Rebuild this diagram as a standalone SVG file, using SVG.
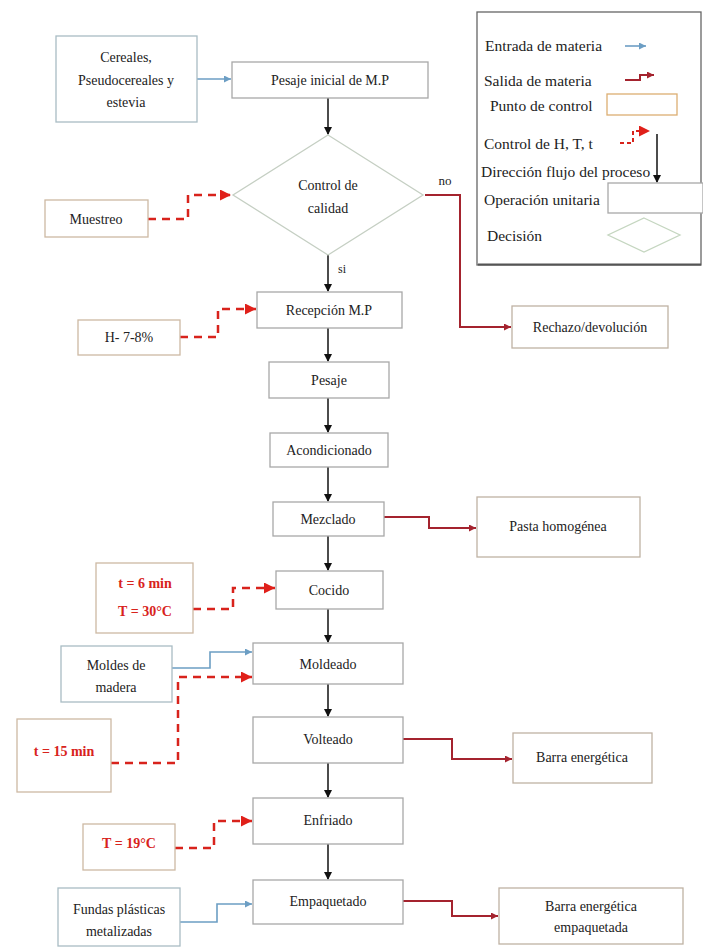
<svg xmlns="http://www.w3.org/2000/svg" width="703" height="947" viewBox="0 0 703 947">
<style>
text{font-family:"Liberation Serif","Times New Roman","DejaVu Serif",serif;font-size:14px;fill:#222;text-anchor:middle}
.lg{text-anchor:start;font-size:15.5px}
.ctl{fill:#d8231c;font-weight:bold}
.op{fill:#fff;stroke:#a8a8a8;stroke-width:1.3}
.cp{fill:#fff;stroke:#cdb9a3;stroke-width:1.3}
.out{fill:#fff;stroke:#bfb2a4;stroke-width:1.3}
.in{fill:#fff;stroke:#a9bcc4;stroke-width:1.3}
.flow{stroke:#111;stroke-width:1.5;fill:none;marker-end:url(#ab)}
.ent{stroke:#6c9ec4;stroke-width:1.6;fill:none;marker-end:url(#abl)}
.sal{stroke:#a4232e;stroke-width:2;fill:none;marker-end:url(#ar)}
.ctr{stroke:#d8231c;stroke-width:2.5;fill:none;stroke-dasharray:8 6;marker-end:url(#arc)}
</style>
<defs>
<marker id="ab" markerUnits="userSpaceOnUse" markerWidth="8" markerHeight="9" refX="7" refY="4" orient="auto"><path d="M0,0 L8,4 L0,8 z" fill="#111"/></marker>
<marker id="abl" markerUnits="userSpaceOnUse" markerWidth="8" markerHeight="8" refX="7" refY="3.5" orient="auto"><path d="M0,0 L7,3.5 L0,7 z" fill="#6c9ec4"/></marker>
<marker id="ar" markerUnits="userSpaceOnUse" markerWidth="8" markerHeight="8" refX="7" refY="3.5" orient="auto"><path d="M0,0 L7,3.5 L0,7 z" fill="#a4232e"/></marker>
<marker id="arc" markerUnits="userSpaceOnUse" markerWidth="12" markerHeight="12" refX="11" refY="5.5" orient="auto"><path d="M0,0 L11,5.5 L0,11 z" fill="#e0201a"/></marker>
</defs>
<rect width="703" height="947" fill="#fff"/>

<g id="connectors">
<path class="flow" d="M328,98 V134"/>
<path class="flow" d="M328,255 V291"/>
<path class="flow" d="M328,328 V361"/>
<path class="flow" d="M328,398 V432"/>
<path class="flow" d="M328,467 V501"/>
<path class="flow" d="M328,536 V570"/>
<path class="flow" d="M328,609 V642"/>
<path class="flow" d="M328,684 V716"/>
<path class="flow" d="M328,763 V797"/>
<path class="flow" d="M328,844 V879"/>
<path class="ent" d="M197,79 H231"/>
<path class="ent" d="M172,668 H210 V652 H252"/>
<path class="ent" d="M180,922 H217 V904 H252"/>
<path class="sal" d="M425,195 H460 V327 H511"/>
<path class="sal" d="M384,517 H429 V528 H476"/>
<path class="sal" d="M403,739 H452 V759 H512"/>
<path class="sal" d="M403,901 H452 V916 H498"/>
<path class="ctr" d="M148,219 H188 V195 H231"/>
<path class="ctr" d="M180,337 H218 V309 H256"/>
<path class="ctr" d="M193,609 H233 V588 H275"/>
<path class="ctr" d="M111,763 H178 V677 H252"/>
<path class="ctr" d="M175,848 H214 V821 H252"/>
<text x="445" y="185" style="font-size:13px">no</text>
<text x="342" y="273" style="font-size:12px">si</text>
</g>

<g id="cereales"><rect class="in" x="56" y="36" width="141" height="86"/>
<text x="126" y="62">Cereales,</text><text x="126" y="85">Pseudocereales y</text><text x="126" y="107">estevia</text></g>
<g id="pesaje-inicial"><rect class="op" x="232" y="62" width="196" height="36"/><text x="330" y="85">Pesaje inicial de M.P</text></g>
<g id="control-calidad"><path d="M328,135 L423,195 L328,255 L233,195 z" fill="#fff" stroke="#c5cfc3" stroke-width="1.3"/>
<text x="328" y="190">Control de</text><text x="328" y="213">calidad</text></g>
<g id="muestreo"><rect class="cp" x="45" y="200" width="103" height="37"/><text x="96" y="224">Muestreo</text></g>
<g id="recepcion"><rect class="op" x="257" y="292" width="145" height="36"/><text x="329" y="315">Recepción M.P</text></g>
<g id="humedad"><rect class="cp" x="78" y="320" width="102" height="35"/><text x="129" y="342">H- 7-8%</text></g>
<g id="rechazo"><rect class="out" x="512" y="306" width="156" height="42"/><text x="590" y="332">Rechazo/devolución</text></g>
<g id="pesaje"><rect class="op" x="269" y="362" width="120" height="36"/><text x="329" y="385">Pesaje</text></g>
<g id="acondicionado"><rect class="op" x="270" y="433" width="118" height="34"/><text x="329" y="455">Acondicionado</text></g>
<g id="mezclado"><rect class="op" x="273" y="502" width="111" height="34"/><text x="328" y="524">Mezclado</text></g>
<g id="pasta"><rect class="out" x="477" y="497" width="163" height="60"/><text x="558" y="531">Pasta homogénea</text></g>
<g id="cocido"><rect class="op" x="276" y="571" width="107" height="38"/><text x="329" y="595">Cocido</text></g>
<g id="ctl-cocido"><rect class="cp" x="96" y="563" width="97" height="70"/>
<text class="ctl" x="145" y="588">t = 6 min</text><text class="ctl" x="145" y="616">T = 30°C</text></g>
<g id="moldeado"><rect class="op" x="253" y="643" width="150" height="41"/><text x="328" y="669">Moldeado</text></g>
<g id="moldes"><rect class="in" x="61" y="646" width="111" height="56"/><text x="116" y="670">Moldes de</text><text x="116" y="692">madera</text></g>
<g id="ctl-moldeado"><rect class="cp" x="17" y="719" width="94" height="73"/><text class="ctl" x="64" y="756">t = 15 min</text></g>
<g id="volteado"><rect class="op" x="253" y="717" width="150" height="46"/><text x="328" y="744">Volteado</text></g>
<g id="barra"><rect class="out" x="513" y="733" width="139" height="50"/><text x="582" y="762">Barra energética</text></g>
<g id="enfriado"><rect class="op" x="253" y="798" width="150" height="46"/><text x="328" y="825">Enfriado</text></g>
<g id="ctl-enfriado"><rect class="cp" x="83" y="824" width="92" height="46"/><text class="ctl" x="129" y="848">T = 19°C</text></g>
<g id="empaquetado"><rect class="op" x="253" y="880" width="150" height="44"/><text x="328" y="906">Empaquetado</text></g>
<g id="fundas"><rect class="in" x="58" y="888" width="122" height="58"/><text x="119" y="914">Fundas plásticas</text><text x="119" y="936">metalizadas</text></g>
<g id="barra-emp"><rect class="out" x="499" y="888" width="184" height="56"/><text x="591" y="911">Barra energética</text><text x="591" y="932">empaquetada</text></g>

<g id="legend">
<rect x="477" y="12" width="224" height="253" fill="#fff" stroke="#666" stroke-width="1.3"/>
<line x1="478" y1="264.5" x2="701" y2="264.5" stroke="#555" stroke-width="2"/>
<text class="lg" x="485" y="51">Entrada de materia</text>
<path class="ent" d="M625,46 H646"/>
<text class="lg" x="484" y="86">Salida de materia</text>
<path class="sal" d="M625,80 H640 V75 H654"/>
<text class="lg" x="490" y="111">Punto de control</text>
<rect x="607" y="94" width="70" height="21" fill="#fff" stroke="#dcae72" stroke-width="1.3"/>
<text class="lg" x="484" y="149">Control de H, T, t</text>
<path d="M620,143 H633 V131 H650" fill="none" stroke="#d8231c" stroke-width="2" stroke-dasharray="4 3" marker-end="url(#arc)"/>
<path class="flow" d="M657,134 V182"/>
<text class="lg" x="481" y="177">Dirección flujo del proceso</text>
<text class="lg" x="484" y="205">Operación unitaria</text>
<rect x="608" y="183" width="95" height="30" fill="#fff" stroke="#a8a8a8" stroke-width="1.3"/>
<text class="lg" x="487" y="241">Decisión</text>
<path d="M644,218 L680,235 L644,252 L608,235 z" fill="#fff" stroke="#c5d6c0" stroke-width="1.3"/>
</g>
</svg>
